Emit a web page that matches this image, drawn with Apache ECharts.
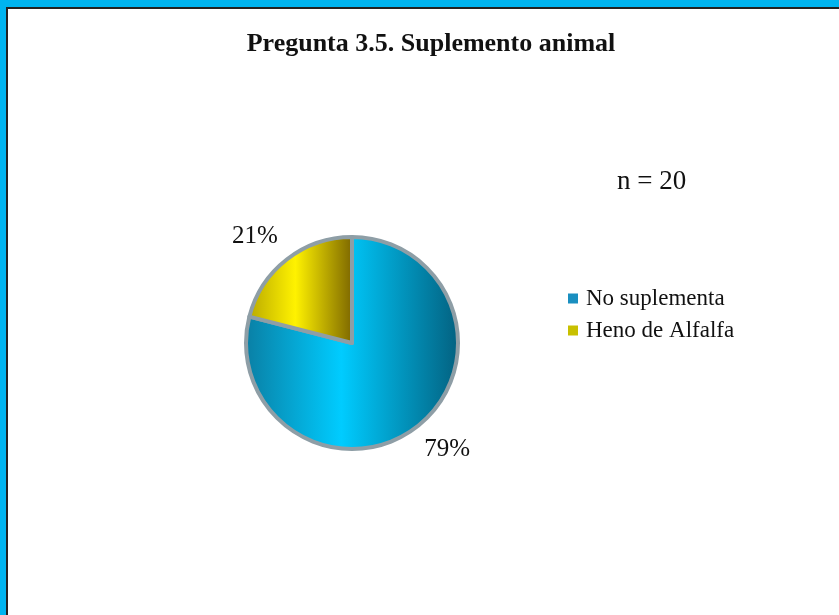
<!DOCTYPE html>
<html>
<head>
<meta charset="utf-8">
<script src="https://cdn.jsdelivr.net/npm/echarts@6/dist/echarts.min.js"></script>
<style>
html,body{margin:0;padding:0;background:#fff;}
#chart{width:839px;height:615px;}
</style>
</head>
<body>
<div id="chart"></div>
<script>
const titleText = 'Pregunta 3.5. Suplemento animal';
const sampleNote = 'n = 20';
const categories = ['No suplementa', 'Heno de Alfalfa'];
const values = [79, 21];

function grad(dark, bright, darkR) {
  return new echarts.graphic.LinearGradient(0, 0, 1, 0, [
    {offset: 0, color: dark},
    {offset: 0.45, color: bright},
    {offset: 1, color: darkR}
  ]);
}
const sliceColors = [
  grad('#0a7ea3', '#00ccff', '#03607f'),
  grad('#b8a800', '#fff200', '#7a6400')
];
const legendColors = ['#1a8fc0', '#c8c000'];

const chart = echarts.init(document.getElementById('chart'), null, {renderer: 'canvas'});
const serif = '"Liberation Serif", "DejaVu Serif", serif';
chart.setOption({
  backgroundColor: '#ffffff',
  animation: false,
  title: {
    text: titleText,
    left: 426,
    top: 26,
    textAlign: 'center',
    textStyle: {fontFamily: serif, fontWeight: 'bold', fontSize: 26, color: '#111'}
  },
  graphic: [
    {type: 'rect', shape: {x: 0, y: 0, width: 839, height: 7}, style: {fill: '#00b4f0'}},
    {type: 'rect', shape: {x: 0, y: 0, width: 6, height: 615}, style: {fill: '#00b4f0'}},
    {type: 'rect', shape: {x: 6, y: 7, width: 833, height: 2}, style: {fill: '#222'}},
    {type: 'rect', shape: {x: 6, y: 7, width: 2, height: 608}, style: {fill: '#222'}},
    {type: 'text', left: 617, top: 168, style: {text: sampleNote, font: '27px ' + serif, fill: '#111'}}
  ],
  legend: {
    orient: 'vertical',
    left: 563,
    top: 282,
    itemWidth: 10,
    itemHeight: 10,
    itemGap: 9,
    icon: 'rect',
    data: categories.map((c, i) => ({name: c, itemStyle: {color: legendColors[i], borderWidth: 0}})),
    textStyle: {fontFamily: serif, fontSize: 23, color: '#111', padding: [0, 0, 0, 3]}
  },
  series: [{
    type: 'pie',
    center: [352, 343],
    radius: 106,
    startAngle: 90,
    clockwise: true,
    data: categories.map((c, i) => ({name: c, value: values[i], itemStyle: {color: sliceColors[i]}})),
    itemStyle: {borderColor: '#8e9ea6', borderWidth: 4},
    label: {
      show: true,
      position: 'outside',
      formatter: '{c}%',
      fontFamily: serif,
      fontSize: 25,
      color: '#111'
    },
    labelLine: {show: false, length: 20, length2: 0},
    labelLayout: function (p) {
      return p.dataIndex === 0 ? {dx: -10, dy: 7} : {dx: 8, dy: -7};
    },
    emphasis: {disabled: true}
  }]
});
</script>
</body>
</html>
